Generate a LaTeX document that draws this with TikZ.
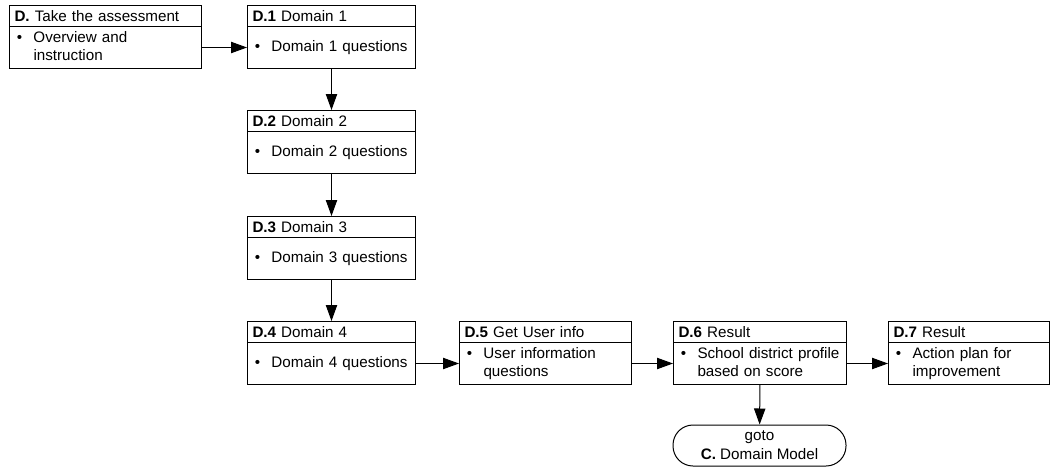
\documentclass[tikz,border=0pt]{standalone}
\usepackage{fontspec}
\setmainfont{Liberation Sans}
\usetikzlibrary{arrows.meta}
\tikzset{
  hdr/.style={draw, line width=0.75pt, minimum height=15.75pt, inner xsep=3.75pt, inner ysep=0pt, align=left, anchor=north west},
  bdy/.style={draw, line width=0.75pt, minimum height=31.5pt, inner xsep=5.6pt, inner ysep=0pt, align=left, anchor=north west},
  arr/.style={-{Triangle[length=12pt,width=8.5pt]}, line width=0.75pt},
  term/.style={draw, line width=0.75pt, rounded corners=15pt, minimum width=129.75pt, minimum height=30.75pt, align=center}
}
\newcommand\procbox[6]{%
  \pgfmathsetmacro\hdrtw{#4*0.75-7.5}%
  \pgfmathsetmacro\bdytw{#4*0.75-11.2}%
  \node[hdr, text width=\hdrtw pt] (#1h) at (#2,#3) {#5};
  \node[bdy, text width=\bdytw pt] (#1) at (#2,#3+21) {#6};
}
\newcommand\bl[2]{\begin{tabular}{@{}p{12.4pt}@{}l@{}}\textbullet & #1\\ & #2\end{tabular}}
\newcommand\bs[1]{\begin{tabular}{@{}p{12.4pt}@{}l@{}}\textbullet & #1\end{tabular}}
\begin{document}
\begin{tikzpicture}[x=0.75pt, y=-0.75pt, font=\fontsize{11.4}{13.5}\selectfont]
\useasboundingbox (0,0) rectangle (1055,467);
\procbox{d}{9}{5}{192}{\textbf{D.} Take the assessment}{\bl{Overview and}{instruction}}
\procbox{da}{247}{5}{168}{\textbf{D.1} Domain 1}{\bs{Domain 1 questions}}
\procbox{db}{247}{110}{168}{\textbf{D.2} Domain 2}{\bs{Domain 2 questions}}
\procbox{dc}{247}{216}{168}{\textbf{D.3} Domain 3}{\bs{Domain 3 questions}}
\procbox{dd}{247}{321}{168}{\textbf{D.4} Domain 4}{\bs{Domain 4 questions}}
\procbox{de}{459}{321}{172}{\textbf{D.5} Get User info}{\bl{User information}{questions}}
\procbox{df}{673}{321}{173}{\textbf{D.6} Result}{\bl{School district profile}{based on score}}
\procbox{dg}{888}{321}{161}{\textbf{D.7} Result}{\bl{Action plan for}{improvement}}
\node[term] (goto) at (759.5,445.5) {goto\\[0.75pt]\textbf{C.} Domain Model};
\draw[arr] (d) -- (da);
\draw[arr] (da) -- (dbh);
\draw[arr] (db) -- (dch);
\draw[arr] (dc) -- (ddh);
\draw[arr] (dd) -- (de);
\draw[arr] (de) -- (df);
\draw[arr] (df) -- (dg);
\draw[arr] (df) -- (goto);
\end{tikzpicture}
\end{document}
